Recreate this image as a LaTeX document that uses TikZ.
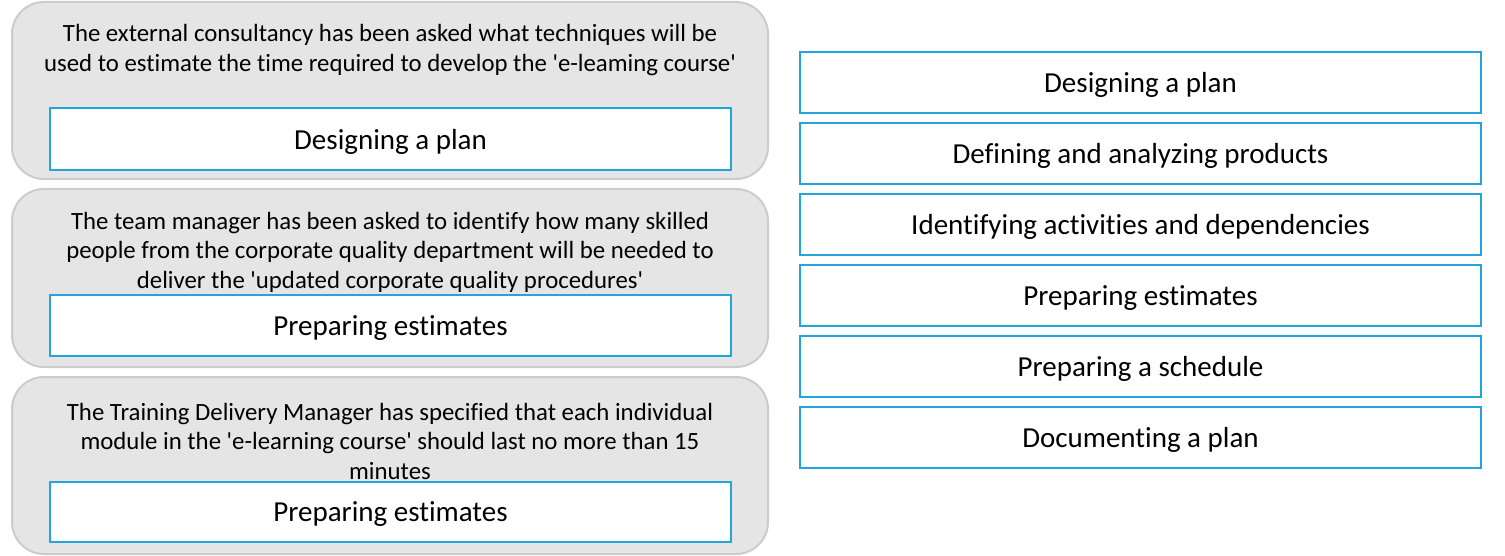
\documentclass[tikz,border=0pt]{standalone}
\usepackage{fontspec}
\setmainfont{Carlito}[Ligatures={TeXOff,CommonOff}]
\definecolor{boxblue}{RGB}{36,164,221}
\definecolor{greyfill}{RGB}{229,229,229}
\definecolor{greyedge}{RGB}{204,204,204}
\begin{document}
\begin{tikzpicture}[x=1pt,y=-1pt,
  panel/.style={draw=greyedge,fill=greyfill,line width=2pt,rounded corners=32pt},
  answer/.style={draw=boxblue,fill=white,line width=2pt},
  qtext/.style={align=center,font=\fontsize{24.8}{29.5}\selectfont,inner sep=0pt},
  atext/.style={font=\fontsize{29}{32}\selectfont,inner sep=0pt}]
\useasboundingbox (0,0) rectangle (1505,556);
\fill[white] (0,0) rectangle (1505,556);
% left panels
\draw[panel] (12,2) rectangle (768,179);
\draw[panel] (12,189) rectangle (768,367);
\draw[panel] (12,377) rectangle (768,554);
\node[qtext] (q1) at (390,50) {The external consultancy has been asked what techniques will be\\used to estimate the time required to develop the 'e-leaming course'};
\node[qtext] (q2) at (390,252) {The team manager has been asked to identify how many skilled\\people from the corporate quality department will be needed to\\deliver the 'updated corporate quality procedures'};
\node[qtext] (q3) at (390,441) {The Training Delivery Manager has specified that each individual\\module in the 'e-learning course' should last no more than 15\\minutes};
\draw[answer] (50,108) rectangle (731,170);
\draw[answer] (50,295) rectangle (731,356);
\draw[answer] (50,482) rectangle (731,542);
\node[atext] (a1) at (390.5,142) {Designing a plan};
\node[atext] (a2) at (390.5,328) {Preparing estimates};
\node[atext] (a3) at (390.5,514.5) {Preparing estimates};
% right options
\foreach \i/\t in {0/Designing a plan,1/Defining and analyzing products,2/Identifying activities and dependencies,3/Preparing estimates,4/Preparing a schedule,5/Documenting a plan}{
  \draw[answer] (800,52+71*\i) rectangle (1481,113+71*\i);
  \node[atext] (o\i) at (1140.5,85+71*\i) {\t};
}
\end{tikzpicture}
\end{document}
